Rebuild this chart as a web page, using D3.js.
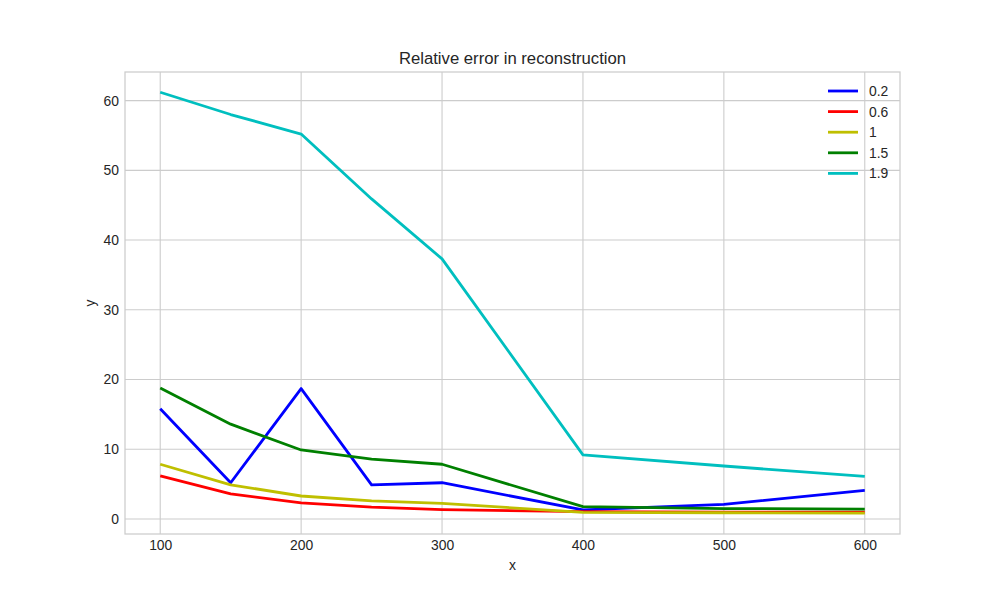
<!DOCTYPE html>
<html>
<head>
<meta charset="utf-8">
<script src="https://cdn.jsdelivr.net/npm/d3@7"></script>
<style>
  body { margin: 0; background: #fff; }
  text { font-family: "Liberation Sans", Arial, sans-serif; fill: #262626; }
</style>
</head>
<body>
<div id="vis"></div>
<script>
var width = 1000,
    height = 600;

// data
var xs = [100, 150, 200, 250, 300, 400, 500, 600];
var labels = ["0.2", "0.6", "1", "1.5", "1.9"];
var colors = ["#0000ff", "#ff0000", "#bfbf00", "#008000", "#00bfbf"];
var s02 = [15.8, 5.2, 18.7, 4.9, 5.2, 1.3, 2.1, 4.1];
var s06 = [6.2, 3.6, 2.3, 1.7, 1.35, 1.05, 1.0, 1.0];
var s10 = [7.85, 4.9, 3.3, 2.6, 2.25, 0.95, 0.9, 0.85];
var s15 = [18.8, 13.6, 9.9, 8.6, 7.85, 1.77, 1.5, 1.43];
var s19 = [61.2, 58.0, 55.2, 45.9, 37.3, 9.2, 7.6, 6.1];
var series = [s02, s06, s10, s15, s19];
var xTicks = [100, 200, 300, 400, 500, 600];
var yTicks = [0, 10, 20, 30, 40, 50, 60];

var margin = {left: 125, right: 100, top: 72, bottom: 66};

var svg = d3.select("#vis").append("svg")
    .attr("width", width)
    .attr("height", height);

var x = d3.scaleLinear()
    .domain([75, 625])
    .range([margin.left, width - margin.right]);

var y = d3.scaleLinear()
    .domain([-2.15, 64.1])
    .range([height - margin.bottom, margin.top]);

//--------GRID--------//
svg.append("g")
  .selectAll("line")
    .data(xTicks)
    .enter()
    .append("line")
    .attr("x1", function(d) { return x(d); })
    .attr("x2", function(d) { return x(d); })
    .attr("y1", margin.top)
    .attr("y2", height - margin.bottom)
    .attr("stroke", "#cccccc")
    .attr("stroke-width", 1.1);

svg.append("g")
  .selectAll("line")
    .data(yTicks)
    .enter()
    .append("line")
    .attr("x1", margin.left)
    .attr("x2", width - margin.right)
    .attr("y1", function(d) { return y(d); })
    .attr("y2", function(d) { return y(d); })
    .attr("stroke", "#cccccc")
    .attr("stroke-width", 1.1);

// frame
svg.append("rect")
    .attr("x", margin.left)
    .attr("y", margin.top)
    .attr("width", width - margin.left - margin.right)
    .attr("height", height - margin.top - margin.bottom)
    .attr("fill", "none")
    .attr("stroke", "#cccccc")
    .attr("stroke-width", 1.25);

//--------AXES--------//
var xAxis = svg.append("g")
    .attr("transform", "translate(0," + (height - margin.bottom) + ")")
    .call(d3.axisBottom(x).tickValues(xTicks).tickSize(0).tickPadding(6));
xAxis.select(".domain").remove();

var yAxis = svg.append("g")
    .attr("transform", "translate(" + margin.left + ",0)")
    .call(d3.axisLeft(y).tickValues(yTicks).tickSize(0).tickPadding(6));
yAxis.select(".domain").remove();

svg.selectAll(".tick text")
    .style("font-family", "'Liberation Sans', Arial, sans-serif")
    .style("font-size", "13.9px")
    .attr("fill", "#262626");

svg.append("text")
    .attr("x", (margin.left + width - margin.right) / 2)
    .attr("y", 570)
    .attr("text-anchor", "middle")
    .style("font-size", "13.9px")
    .text("x");

svg.append("text")
    .attr("transform", "translate(95," + ((margin.top + height - margin.bottom) / 2) + ") rotate(-90)")
    .attr("text-anchor", "middle")
    .style("font-size", "13.9px")
    .text("y");

svg.append("text")
    .attr("x", (margin.left + width - margin.right) / 2)
    .attr("y", 64)
    .attr("text-anchor", "middle")
    .style("font-size", "16.7px")
    .text("Relative error in reconstruction");

//--------LINES--------//
var line = d3.line()
    .x(function(d, i) { return x(xs[i]); })
    .y(function(d) { return y(d); });

svg.append("g")
  .selectAll("path")
    .data(series)
    .enter()
    .append("path")
    .attr("d", line)
    .attr("fill", "none")
    .attr("stroke", function(d, i) { return colors[i]; })
    .attr("stroke-width", 2.8)
    .attr("stroke-linejoin", "round");

//--------LEGEND--------//
var legend = svg.append("g")
  .selectAll("g")
    .data(labels)
    .enter()
    .append("g")
    .attr("transform", function(d, i) { return "translate(828," + (91 + i * 20.6) + ")"; });

legend.append("line")
    .attr("x1", 0)
    .attr("x2", 30)
    .attr("stroke", function(d, i) { return colors[i]; })
    .attr("stroke-width", 2.8);

legend.append("text")
    .attr("x", 41)
    .attr("y", 5)
    .style("font-size", "13.9px")
    .text(function(d) { return d; });
</script>
</body>
</html>
